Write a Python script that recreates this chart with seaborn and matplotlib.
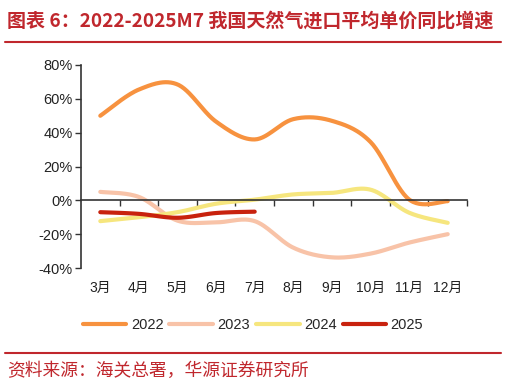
import numpy as np
import pandas as pd
import matplotlib
matplotlib.use("Agg")
import matplotlib.pyplot as plt
import seaborn as sns
from matplotlib.lines import Line2D

months = ["3月", "4月", "5月", "6月", "7月", "8月", "9月", "10月", "11月", "12月"]
y2022 = [50, 65.5, 68.5, 46.5, 36, 48, 47, 34.5, 0.5, -0.5]
y2023 = [5, 2, -12, -13, -12.3, -28, -33.7, -31.5, -25, -20]
y2024 = [-12.3, -10, -7, -2, 0.4, 3.5, 4.4, 6.3, -7.3, -13.3]
y2025 = [-7, -8, -10.3, -7.5, -6.7]
series_names = ["2022", "2023", "2024", "2025"]
yticks = [-40, -20, 0, 20, 40, 60, 80]

colors = {"2022": "#F7923F", "2023": "#F8C3A8", "2024": "#F6E67E", "2025": "#C8220E"}

sns.set_theme(style="white")
plt.rcParams["font.family"] = ["Liberation Sans", "Noto Sans CJK SC", "DejaVu Sans"]


def smooth(xs, ys, n=30):
    xs = np.asarray(xs, float)
    ys = np.asarray(ys, float)
    P = np.column_stack([xs, ys])
    P = np.vstack([P[0], P, P[-1]])
    out = []
    for i in range(1, len(P) - 2):
        p0, p1, p2, p3 = P[i - 1], P[i], P[i + 1], P[i + 2]
        c1 = p1 + (p2 - p0) / 6.0
        c2 = p2 - (p3 - p1) / 6.0
        t = np.linspace(0, 1, n)[:, None]
        b = ((1 - t) ** 3) * p1 + 3 * ((1 - t) ** 2) * t * c1 + 3 * (1 - t) * t ** 2 * c2 + t ** 3 * p2
        out.append(b if i == 1 else b[1:])
    out = np.vstack(out)
    return out[:, 0], out[:, 1]


fig = plt.figure(figsize=(5.06, 3.86), dpi=100)
ax = fig.add_axes([81 / 506, 1 - 268 / 386, (467 - 81) / 506, (268 - 65) / 386])

data = {"2022": y2022, "2023": y2023, "2024": y2024, "2025": y2025}
rows = []
for name in series_names:
    xs = np.arange(len(data[name]))
    sx, sy = smooth(xs, data[name])
    rows.append(pd.DataFrame({"x": sx, "y": sy, "series": name}))
df = pd.concat(rows, ignore_index=True)

sns.lineplot(data=df, x="x", y="y", hue="series", palette=colors, sort=False,
             linewidth=3.0, ax=ax, legend=False, estimator=None)
for line in ax.lines:
    line.set_solid_capstyle("round")

ax.set_xlim(-0.5, len(months) - 0.5)
ax.set_ylim(-40, 80)
ax.set_yticks(yticks)
ax.set_yticklabels([f"{v}%" for v in yticks], fontsize=10.5, color="#222222")
ax.set_xlabel("")
ax.set_ylabel("")

for s in ["top", "right"]:
    ax.spines[s].set_visible(False)
ax.spines["left"].set_color("#333333")
ax.spines["left"].set_linewidth(1.2)
ax.spines["bottom"].set_position(("data", 0))
ax.spines["bottom"].set_color("#333333")
ax.spines["bottom"].set_linewidth(1.2)
ax.set_xticks(np.arange(len(months)) + 0.5)
ax.set_xticklabels([])
ax.tick_params(axis="x", direction="out", length=4, width=1.0, color="#333333", bottom=True)
ax.tick_params(axis="y", direction="out", length=4, width=1.0, color="#333333", left=True, pad=2)

sec = ax.secondary_xaxis(0.0)
sec.set_xticks(np.arange(len(months)))
sec.set_xticklabels(months, fontsize=10, color="#222222")
sec.tick_params(length=0, pad=9)
sec.spines["bottom"].set_visible(False)

handles = [Line2D([0], [0], color=colors[n], lw=3.0, solid_capstyle="round") for n in series_names]
fig.legend(handles, series_names, loc="center", bbox_to_anchor=(0.5, 1 - 325 / 386), ncol=4,
           frameon=False, fontsize=10.5, handlelength=3.0, handletextpad=0.3, columnspacing=0.4)

red = "#C0272D"
fig.text(7 / 506, 1 - 21 / 386, "图表 6：2022-2025M7 我国天然气进口平均单价同比增速",
         fontsize=13.7, fontweight="bold", color=red, va="center", ha="left",
         family=["Noto Sans CJK SC", "DejaVu Sans"])
fig.add_artist(Line2D([5 / 506, 501 / 506], [1 - 42 / 386, 1 - 42 / 386], color=red, lw=1.5))
fig.add_artist(Line2D([5 / 506, 501 / 506], [1 - 353 / 386, 1 - 353 / 386], color=red, lw=1.5))
fig.text(7 / 506, 1 - 371 / 386, "资料来源：海关总署，华源证券研究所", fontsize=12.8, color=red,
         va="center", ha="left", family=["Noto Sans CJK SC", "DejaVu Sans"])

fig.savefig("out.png", dpi=100)
